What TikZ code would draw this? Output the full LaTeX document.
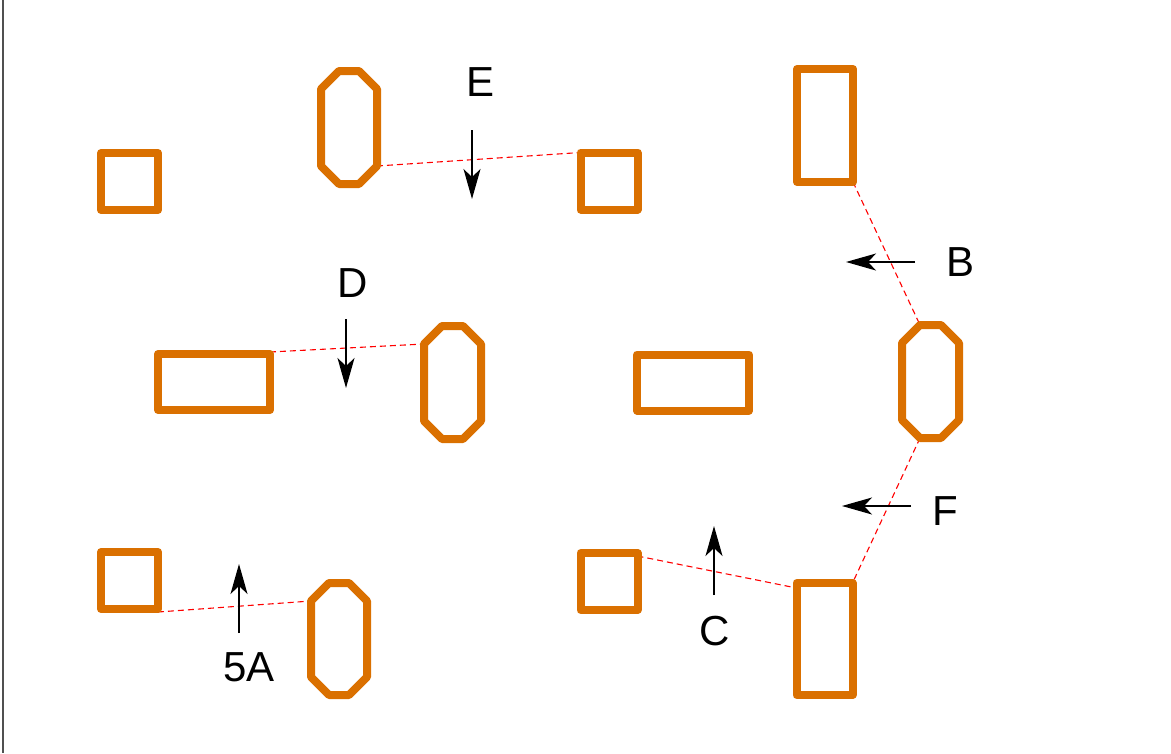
\documentclass[tikz,border=0pt]{standalone}
\usepackage{fontspec}
\setmainfont{Liberation Sans}
\usetikzlibrary{arrows.meta,calc,backgrounds}
\definecolor{shporange}{RGB}{218,112,0}
\definecolor{frameg}{RGB}{80,80,80}
\tikzset{
  shp/.style={draw=shporange,line width=8pt,line join=round},
  boxnode/.style={shape=rectangle,inner sep=0pt,outer sep=0pt,shp},
  octnode/.style={shape=rectangle,inner sep=0pt,outer sep=0pt,draw=none,minimum width=56pt,minimum height=113pt},
  sqr/.style={boxnode,minimum width=57pt,minimum height=57pt},
  tallr/.style={boxnode,minimum width=56pt,minimum height=113pt},
  wider/.style={boxnode,minimum width=112pt,minimum height=56pt},
  link/.style={draw=red,line width=1.1pt,dash pattern=on 6pt off 4pt},
  arr/.style={draw=black,line width=1.3pt,-{Stealth[length=30pt,width=17pt,inset=8pt]}},
  lbl/.style={inner sep=0pt,font=\fontsize{42}{50}\selectfont}
}
\newcommand\drawocto[1]{%
  \draw[shp] ($(#1.north west)+(18,0)$) -- ($(#1.north east)+(-18,0)$) -- ($(#1.north east)+(0,18)$)
    -- ($(#1.south east)+(0,-18)$) -- ($(#1.south east)+(-18,0)$) -- ($(#1.south west)+(18,0)$)
    -- ($(#1.south west)+(0,-18)$) -- ($(#1.north west)+(0,18)$) -- cycle;}
\begin{document}
\begin{tikzpicture}[x=1pt,y=-1pt]
\useasboundingbox (0,0) rectangle (1171,753);
\coordinate (ft) at (3,0);
\coordinate (fb) at (3,753);
\draw[frameg,line width=1.6pt] (ft) -- (fb);

% shapes
\node[sqr] (s1) at (129.5,181.5) {};
\node[octnode] (o1) at (349,127.5) {};
\node[sqr] (s2) at (609,181) {};
\node[tallr] (r1) at (825,125.5) {};
\node[octnode,minimum width=57pt] (o2) at (930.5,381.5) {};
\node[wider] (w1) at (214,382) {};
\node[octnode,minimum width=57pt] (o3) at (452.5,382.5) {};
\node[wider] (w2) at (693,382.5) {};
\node[sqr] (s3) at (129.5,580.5) {};
\node[octnode,minimum height=112pt] (o4) at (339,639) {};
\node[sqr] (s4) at (609,581.5) {};
\node[tallr,minimum height=112pt] (r2) at (824.5,639) {};
\drawocto{o1}
\drawocto{o2}
\drawocto{o3}
\drawocto{o4}

% dashed links
\begin{pgfonlayer}{background}
\fill[white] (0,0) rectangle (1171,753);
\draw[link] ($(o1.south east)+(0,-18)$) -- (s2.north west);
\draw[link] (r1.south east) -- ($(o2.north west)+(18,0)$);
\draw[link] ($(o2.south west)+(18,0)$) -- (r2.north east);
\draw[link] ($(s4.north east)+(0,3)$) -- ($(r2.north west)+(0,5)$);
\draw[link] ($(w1.north east)+(0,-2)$) -- ($(o3.north west)+(0,18)$);
\draw[link] ($(s3.south east)+(0,3)$) -- ($(o4.north west)+(0,18)$);
\end{pgfonlayer}

% arrows
\coordinate (eT) at (472,130); \coordinate (eH) at (472,199);
\draw[arr] (eT) -- (eH);
\coordinate (dT) at (346,319); \coordinate (dH) at (346,388);
\draw[arr] (dT) -- (dH);
\coordinate (bT) at (915,262); \coordinate (bH) at (846,262);
\draw[arr] (bT) -- (bH);
\coordinate (fT) at (911,506); \coordinate (fH) at (842,506);
\draw[arr] (fT) -- (fH);
\coordinate (cT) at (714,595); \coordinate (cH) at (714,526);
\draw[arr] (cT) -- (cH);
\coordinate (aT) at (239,633); \coordinate (aH) at (239,564);
\draw[arr] (aT) -- (aH);

% labels
\node[lbl] (lE) at (480.5,82) {E};
\node[lbl] (lD) at (353,283) {D};
\node[lbl] (lB) at (960,262) {B};
\node[lbl] (lF) at (945,511) {F};
\node[lbl] (lC) at (715,631) {C};
\node[lbl] (lA) at (249,667) {5A};
\end{tikzpicture}
\end{document}
